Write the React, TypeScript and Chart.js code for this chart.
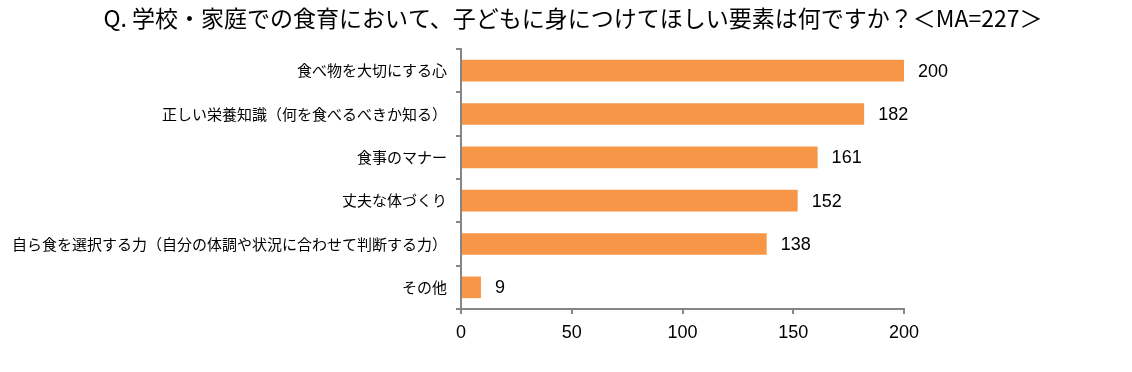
import React, { useEffect, useRef } from "react";
import { Chart, registerables } from "chart.js";

Chart.register(...registerables);

const TITLE =
  "Q. 学校・家庭での食育において、子どもに身につけてほしい要素は何ですか？＜MA=227＞";

const categories = [
  "食べ物を大切にする心",
  "正しい栄養知識（何を食べるべきか知る）",
  "食事のマナー",
  "丈夫な体づくり",
  "自ら食を選択する力（自分の体調や状況に合わせて判断する力）",
  "その他",
];

const counts = [200, 182, 161, 152, 138, 9];

const xMin = 0;
const xMax = 200;
const xStep = 50;

const BAR_COLOR = "#F79646";
const AXIS_COLOR = "#868686";
const JP_FONT = '"Noto Sans CJK JP", "Noto Sans", sans-serif';
const NUM_FONT = '"Liberation Sans", Arial, sans-serif';

const valueLabels = {
  id: "valueLabels",
  afterDatasetsDraw(chart: any) {
    const ctx = chart.ctx;
    const meta = chart.getDatasetMeta(0);
    ctx.save();
    ctx.font = `18px ${NUM_FONT}`;
    ctx.fillStyle = "#000000";
    ctx.textAlign = "left";
    ctx.textBaseline = "middle";
    meta.data.forEach((bar: any, i: number) => {
      ctx.fillText(String(counts[i]), bar.x + 14, bar.y + 1);
    });
    ctx.restore();
  },
};

const centeredTitle = {
  id: "centeredTitle",
  afterDraw(chart: any) {
    const ctx = chart.ctx;
    ctx.save();
    ctx.font = `23px ${JP_FONT}`;
    ctx.fillStyle = "#000000";
    ctx.textAlign = "center";
    ctx.textBaseline = "middle";
    ctx.fillText(TITLE, 573, 18);
    ctx.restore();
  },
};

export default function App() {
  const canvasRef = useRef<HTMLCanvasElement | null>(null);

  useEffect(() => {
    if (!canvasRef.current) return;
    const chart = new Chart(canvasRef.current, {
      type: "bar",
      data: {
        labels: categories,
        datasets: [
          {
            data: counts,
            backgroundColor: BAR_COLOR,
            borderWidth: 0,
            categoryPercentage: 1,
            barPercentage: 0.5,
          },
        ],
      },
      plugins: [valueLabels, centeredTitle],
      options: {
        indexAxis: "y",
        animation: false,
        responsive: false,
        devicePixelRatio: 1,
        layout: { padding: { top: 49, right: 228, bottom: 0, left: 0 } },
        plugins: {
          legend: { display: false },
          tooltip: { enabled: false },
          title: { display: false },
        },
        scales: {
          x: {
            type: "linear",
            min: xMin,
            max: xMax,
            ticks: {
              stepSize: xStep,
              color: "#000000",
              font: { family: NUM_FONT, size: 18 },
              padding: 8,
            },
            grid: {
              display: true,
              drawOnChartArea: false,
              drawTicks: true,
              tickLength: 5,
              color: AXIS_COLOR,
              lineWidth: 2,
            },
            border: { display: true, color: AXIS_COLOR, width: 2 },
            afterFit: (scale: any) => {
              scale.height = 63;
            },
          },
          y: {
            type: "category",
            ticks: {
              color: "#000000",
              font: { family: JP_FONT, size: 15 },
              padding: 9,
            },
            grid: {
              display: true,
              drawOnChartArea: false,
              drawTicks: true,
              tickLength: 5,
              offset: true,
              color: AXIS_COLOR,
              lineWidth: 2,
            },
            border: { display: true, color: AXIS_COLOR, width: 2 },
            afterFit: (scale: any) => {
              scale.width = 461;
            },
          },
        },
      },
    } as any);
    return () => chart.destroy();
  }, []);

  return (
    <div style={{ position: "absolute", left: 0, top: 0, width: 1132, height: 372, background: "#fff" }}>
      <canvas ref={canvasRef} width={1132} height={372} />
    </div>
  );
}
